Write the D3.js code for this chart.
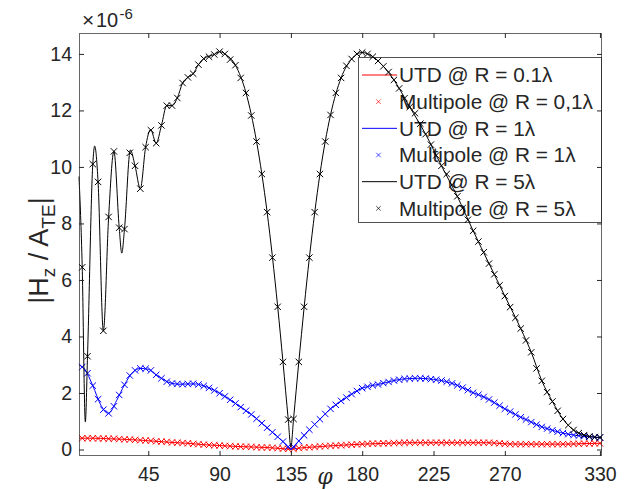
<!DOCTYPE html>
<html>
<head>
<meta charset="utf-8">
<script src="https://cdn.jsdelivr.net/npm/d3@7"></script>
<style>
  html, body { margin: 0; padding: 0; background: #ffffff; }
  svg { display: block; font-family: "Liberation Sans", Arial, Helvetica, sans-serif; }
</style>
</head>
<body>
<div id="chart"></div>
<script>
// |Hz / A_TE| versus observation angle phi (degrees), in units of 1e-6

// Angle ticks
const xTicks = [45, 90, 135, 180, 225, 270, 330];
const yTicks = [0, 2, 4, 6, 8, 10, 12, 14];

// Multipole samples are taken every 10/3 degree
const multipolePhi = d3.range(1, 100).map(k => (10 * k) / 3);

const multipoleR01 = [
  0.40, 0.40, 0.40, 0.39, 0.39, 0.38, 0.38, 0.37, 0.36, 0.35,
  0.34, 0.33, 0.32, 0.31, 0.29, 0.28, 0.27, 0.25, 0.24, 0.23,
  0.22, 0.20, 0.19, 0.17, 0.16, 0.15, 0.14, 0.13, 0.12, 0.11,
  0.10, 0.10, 0.09, 0.08, 0.07, 0.07, 0.06, 0.05, 0.03, 0.02,
  0.02, 0.05, 0.07, 0.08, 0.09, 0.11, 0.12, 0.13, 0.14, 0.15,
  0.16, 0.17, 0.18, 0.19, 0.20, 0.21, 0.21, 0.22, 0.22, 0.23,
  0.23, 0.24, 0.24, 0.24, 0.24, 0.24, 0.24, 0.24, 0.24, 0.24,
  0.24, 0.24, 0.24, 0.24, 0.24, 0.24, 0.24, 0.24, 0.23, 0.22,
  0.20, 0.19, 0.19, 0.19, 0.19, 0.19, 0.19, 0.19, 0.19, 0.19,
  0.19, 0.19, 0.19, 0.20, 0.20, 0.21, 0.21, 0.22, 0.22
];

const multipoleR1 = [
  2.92, 2.70, 2.26, 1.78, 1.41, 1.28, 1.53, 1.93, 2.29, 2.62,
  2.80, 2.87, 2.86, 2.80, 2.64, 2.52, 2.40, 2.34, 2.32, 2.31,
  2.32, 2.33, 2.30, 2.25, 2.18, 2.09, 1.99, 1.88, 1.76, 1.63,
  1.50, 1.37, 1.24, 1.09, 0.93, 0.77, 0.61, 0.45, 0.28, 0.10,
  0.10, 0.30, 0.50, 0.70, 0.89, 1.07, 1.26, 1.44, 1.58, 1.72,
  1.84, 1.96, 2.07, 2.17, 2.22, 2.27, 2.30, 2.35, 2.39, 2.44,
  2.47, 2.50, 2.51, 2.52, 2.52, 2.51, 2.49, 2.47, 2.44, 2.40,
  2.34, 2.27, 2.19, 2.10, 2.01, 1.94, 1.86, 1.77, 1.66, 1.55,
  1.44, 1.34, 1.24, 1.14, 1.06, 0.97, 0.88, 0.80, 0.74, 0.68,
  0.63, 0.58, 0.54, 0.51, 0.49, 0.47, 0.45, 0.43, 0.42
];

const multipoleR5 = [
  6.45, 3.30, 10.10, 9.47, 4.20, 8.23, 10.55, 7.85, 7.80, 10.50,
  10.04, 9.23, 10.70, 11.30, 10.84, 11.47, 12.17, 12.17, 12.44, 12.97,
  13.17, 13.30, 13.62, 13.83, 13.90, 13.98, 14.08, 14.00, 13.80, 13.60,
  13.15, 12.62, 11.82, 10.90, 9.75, 8.40, 6.79, 5.05, 3.10, 1.06,
  1.08, 3.10, 5.05, 6.79, 8.40, 9.75, 10.90, 11.84, 12.62, 13.15,
  13.58, 13.82, 14.00, 14.05, 14.00, 13.90, 13.75, 13.56, 13.36, 13.08,
  12.78, 12.43, 12.12, 11.90, 11.53, 11.16, 10.79, 10.41, 10.04, 9.75,
  9.37, 8.96, 8.54, 8.13, 7.74, 7.36, 6.98, 6.58, 6.20, 5.81,
  5.43, 5.04, 4.66, 4.28, 3.86, 3.44, 2.87, 2.43, 2.03, 1.70,
  1.37, 1.08, 0.86, 0.69, 0.58, 0.51, 0.46, 0.44, 0.43
];

// UTD curves: [phi, value] pairs
const utdR01 = [
  [1.3, 0.40], [10, 0.40], [20, 0.38], [30, 0.36], [40, 0.33], [50, 0.29],
  [60, 0.25], [70, 0.22], [80, 0.17], [90, 0.14], [100, 0.11], [110, 0.09],
  [120, 0.07], [130, 0.03], [135, 0.01], [140, 0.05], [150, 0.09], [160, 0.13],
  [170, 0.16], [180, 0.19], [190, 0.21], [200, 0.23], [210, 0.24], [260, 0.24],
  [270, 0.20], [280, 0.19], [310, 0.19], [320, 0.21], [330, 0.22], [331.3, 0.22]
];

const utdR1 = [
  [1.3, 2.99], [5, 2.83], [10, 2.26], [15, 1.58], [20, 1.28], [25, 1.73],
  [30, 2.29], [35, 2.72], [40, 2.87], [45, 2.84], [50, 2.64], [55, 2.46],
  [60, 2.34], [65, 2.31], [70, 2.32], [75, 2.32], [80, 2.25], [85, 2.14],
  [90, 1.99], [95, 1.82], [100, 1.63], [105, 1.44], [110, 1.24], [115, 1.01],
  [120, 0.77], [125, 0.53], [130, 0.28], [135, 0.02], [140, 0.30], [145, 0.60],
  [150, 0.89], [155, 1.17], [160, 1.44], [165, 1.65], [170, 1.84], [175, 2.02],
  [180, 2.17], [185, 2.25], [190, 2.30], [195, 2.37], [200, 2.44], [205, 2.49],
  [210, 2.51], [215, 2.52], [220, 2.51], [225, 2.48], [230, 2.44], [235, 2.37],
  [240, 2.27], [245, 2.15], [250, 2.01], [255, 1.90], [260, 1.77], [265, 1.60],
  [270, 1.44], [275, 1.29], [280, 1.14], [285, 1.02], [290, 0.88], [295, 0.77],
  [300, 0.68], [305, 0.60], [310, 0.54], [315, 0.50], [320, 0.47], [325, 0.44],
  [330, 0.42], [331.3, 0.42]
];

const utdR5 = [
  [1.3, 9.66], [3.33, 6.45], [5.3, 0.98], [6.67, 3.30], [10, 10.10], [11.2, 10.74],
  [13.33, 9.47], [16.67, 4.20], [20, 8.23], [23.33, 10.55], [26.67, 7.85], [28.3, 6.95],
  [30, 7.80], [33.7, 10.60], [36.67, 10.04], [40, 9.23], [43.33, 10.70], [46.5, 11.32],
  [50, 10.84], [53.33, 11.47], [56.67, 12.17], [60, 12.17], [63.33, 12.44], [66.67, 12.97],
  [70, 13.17], [73.33, 13.30], [76.67, 13.62], [80, 13.83], [86.67, 13.98], [90, 14.08],
  [93.33, 14.00], [100, 13.60], [106.67, 12.62], [113.33, 10.90], [120, 8.40], [126.67, 5.05],
  [130, 3.10], [133.33, 1.06], [135, 0.08], [136.67, 1.08], [140, 3.10], [146.67, 6.79],
  [153.33, 9.75], [160, 11.84], [166.67, 13.15], [173.33, 13.82], [180, 14.05], [186.67, 13.90],
  [193.33, 13.56], [200, 13.08], [210, 12.12], [220, 11.16], [230, 10.04], [240, 8.96],
  [250, 7.74], [260, 6.58], [270, 5.43], [280, 4.28], [286.67, 3.44], [293.33, 2.43],
  [300, 1.70], [306.67, 1.08], [313.33, 0.69], [320, 0.51], [330, 0.43], [331.3, 0.43]
];

const legendLabels = [
  "UTD @ R = 0.1\u03bb", "Multipole @ R = 0,1\u03bb",
  "UTD @ R = 1\u03bb", "Multipole @ R = 1\u03bb",
  "UTD @ R = 5\u03bb", "Multipole @ R = 5\u03bb"
];

const series = [
  { utd: utdR01, multi: multipoleR01, color: "#ff0000" },
  { utd: utdR1, multi: multipoleR1, color: "#0000ff" },
  { utd: utdR5, multi: multipoleR5, color: "#000000" }
];

const W = 627, H = 489;
const plot = { left: 79, right: 602, top: 33, bottom: 456 };
const axisColor = "#262626";

const svg = d3.select("#chart").append("svg")
  .attr("width", W).attr("height", H);

const x = d3.scaleLinear().domain([1.3, 331.3]).range([plot.left, plot.right]);
const y = d3.scaleLinear().domain([-0.23, 14.74]).range([plot.bottom, plot.top]);

// Legend box sits beneath the curves
const legend = svg.append("g");
const lg = { x0: 358.5, x1: 601.5, y0: 57.5, y1: 222.5, row0: 75, step: 26.67 };
legend.append("rect")
  .attr("x", lg.x0).attr("y", lg.y0)
  .attr("width", lg.x1 - lg.x0).attr("height", lg.y1 - lg.y0)
  .attr("fill", "#ffffff").attr("stroke", axisColor).attr("stroke-opacity", 0.8).attr("stroke-width", 1);

const xMark = "M-3.2,-3.2L3.2,3.2M-3.2,3.2L3.2,-3.2";

legendLabels.forEach((label, i) => {
  const s = series[Math.floor(i / 2)];
  const cy = lg.row0 + i * lg.step;
  if (i % 2 === 0) {
    legend.append("line")
      .attr("x1", 362).attr("x2", 397).attr("y1", cy).attr("y2", cy)
      .attr("stroke", s.color).attr("stroke-width", 1);
  } else {
    legend.append("path")
      .attr("d", xMark)
      .attr("fill", "none").attr("stroke", s.color).attr("stroke-width", 1)
      .attr("transform", `translate(378.5,${cy}) scale(0.7)`);
  }
  legend.append("text")
    .attr("x", 399).attr("y", cy).attr("dy", "0.36em")
    .style("font-size", "20.8px").attr("fill", axisColor)
    .text(label);
});

// Curves
const line = d3.line()
  .x(d => x(d[0])).y(d => y(d[1]))
  .curve(d3.curveMonotoneX);

const curves = svg.append("g");
series.forEach(s => {
  curves.append("path")
    .datum(s.utd)
    .attr("d", line)
    .attr("fill", "none").attr("stroke", s.color).attr("stroke-width", 1);
  curves.append("g").selectAll("path")
    .data(s.multi)
    .join("path")
    .attr("d", xMark)
    .attr("transform", (v, i) => `translate(${x(multipolePhi[i])},${y(v)})`)
    .attr("fill", "none").attr("stroke", s.color).attr("stroke-width", 1);
});

// Axes (ticks point inward, box on all sides)
const gx = svg.append("g").attr("transform", `translate(0,${plot.bottom})`)
  .call(d3.axisBottom(x).tickValues(xTicks).tickSizeInner(-5).tickSizeOuter(0).tickPadding(11));
const gy = svg.append("g").attr("transform", `translate(${plot.left},0)`)
  .call(d3.axisLeft(y).tickValues(yTicks).tickSizeInner(-5).tickSizeOuter(0).tickPadding(7));
const gxt = svg.append("g").attr("transform", `translate(0,${plot.top})`)
  .call(d3.axisTop(x).tickValues(xTicks).tickSizeInner(-5).tickSizeOuter(0).tickFormat(""));
const gyr = svg.append("g").attr("transform", `translate(${plot.right},0)`)
  .call(d3.axisRight(y).tickValues(yTicks).tickSizeInner(-5).tickSizeOuter(0).tickFormat(""));

[gx, gy, gxt, gyr].forEach(g => {
  g.select(".domain").remove();
  g.selectAll(".tick line").attr("stroke", axisColor).attr("stroke-width", 1);
  g.selectAll(".tick text")
    .attr("fill", axisColor).style("font-size", "19.5px")
    .style("font-family", "'Liberation Sans', Arial, Helvetica, sans-serif");
});

svg.append("rect")
  .attr("x", plot.left + 0.5).attr("y", plot.top + 0.5)
  .attr("width", plot.right - plot.left - 1).attr("height", plot.bottom - plot.top - 1)
  .attr("fill", "none").attr("stroke", axisColor).attr("stroke-opacity", 0.7).attr("stroke-width", 1);

// Exponent label: "×10" with a raised "-6"
const expo = svg.append("g").attr("fill", axisColor);
expo.append("text")
  .attr("x", 82).attr("y", 27)
  .style("font-size", "21px")
  .text("\u00d7");
expo.append("text")
  .attr("x", 96).attr("y", 27)
  .style("font-size", "20px")
  .text("10");
expo.append("text")
  .attr("x", 119.5).attr("y", 19)
  .style("font-size", "15px")
  .text("-6");

// x label
svg.append("text")
  .attr("x", 325).attr("y", 476).attr("dy", "0.35em")
  .attr("text-anchor", "middle")
  .style("font-size", "22px").style("font-style", "italic")
  .style("font-family", "'DejaVu Serif', serif")
  .attr("fill", axisColor)
  .text("\u03c6");

// y label
const ylab = svg.append("text")
  .attr("transform", `translate(48,${(plot.top + plot.bottom) / 2 + 6}) rotate(-90)`)
  .attr("text-anchor", "middle")
  .style("font-size", "27px").attr("fill", axisColor);
ylab.append("tspan").text("|H");
ylab.append("tspan").style("font-size", "19px").attr("dy", 7).text("z");
ylab.append("tspan").attr("dy", -7).text(" / A");
ylab.append("tspan").style("font-size", "19px").attr("dy", 7).text("TE");
ylab.append("tspan").attr("dy", -7).text("|");
</script>
</body>
</html>
